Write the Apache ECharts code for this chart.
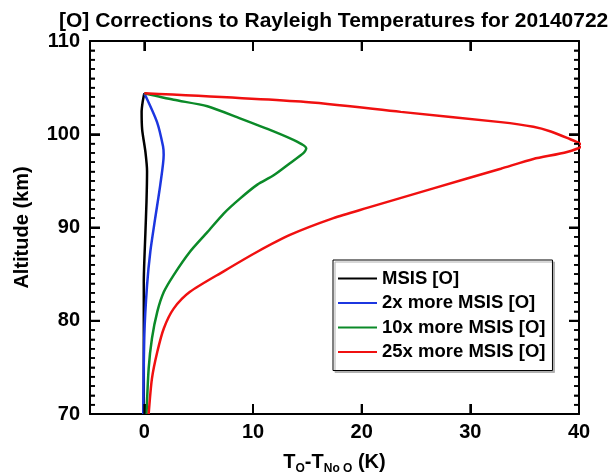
<!DOCTYPE html>
<html>
<head>
<meta charset="utf-8">
<script src="https://cdn.jsdelivr.net/npm/echarts@6/dist/echarts.min.js"></script>
<style>
  html, body { margin: 0; padding: 0; background: #fff; }
  #chart { width: 612px; height: 474px; }
</style>
</head>
<body>
<div id="chart"></div>
<script>
// Temperature corrections (K) versus altitude (km) for several [O] scalings
const seriesNames = ['MSIS [O]', '2x more MSIS [O]', '10x more MSIS [O]', '25x more MSIS [O]'];
const seriesColors = ['#000000', '#1c36e0', '#0b8a28', '#f01010'];

const altMsis = [104.4, 103.5, 102.4, 100.5, 98.1, 96.0, 92.8, 89.5, 84.1, 70.0];
const dtMsis  = [0.0, -0.15, -0.25, -0.2, 0.1, 0.25, 0.2, 0.1, -0.05, -0.05];

const alt2x = [104.4, 101.3, 98.7, 97.8, 94.6, 91.0, 87.4, 83.8, 78.5, 70.0];
const dt2x  = [0.0, 1.17, 1.72, 1.78, 1.47, 1.0, 0.55, 0.25, 0.0, -0.1];

const alt10x = [104.4, 103.7, 103.0, 101.7, 100.3, 99.2, 98.5, 98.0, 96.9, 95.6, 94.6, 93.1, 91.5, 89.5, 87.4, 84.9, 83.1, 81.0, 78.1, 74.9, 70.0];
const dt10x  = [0.0, 2.7, 5.8, 8.8, 11.9, 14.05, 14.9, 14.66, 13.4, 11.9, 10.4, 8.8, 7.3, 5.8, 4.2, 2.7, 1.8, 1.2, 0.7, 0.4, 0.2];

const alt25x = [104.4, 103.5, 102.4, 101.3, 100.8, 100.3, 99.6, 98.8, 98.1, 97.35, 96.3, 94.2, 92.1, 91.0, 89.2, 87.4, 85.3, 83.1, 81.3, 79.2, 76.7, 73.8, 70.0];
const dt25x  = [0.0, 14.4, 23.6, 32.8, 35.8, 37.4, 38.9, 40.3, 38.9, 35.8, 32.8, 26.6, 20.5, 17.4, 13.4, 10.4, 7.3, 4.2, 2.7, 1.8, 1.2, 0.7, 0.4];

// Axis ranges and tick positions
const xMin = -5, xMax = 40;
const yMin = 70, yMax = 110;
const xTicks = [0, 10, 20, 30, 40];
const yMajorTicks = [70, 80, 90, 100, 110];

const profiles = [[dtMsis, altMsis], [dt2x, alt2x], [dt10x, alt10x], [dt25x, alt25x]];

const FONT = 'Liberation Sans, Arial, Helvetica, sans-serif';

// 1 km minor ticks between the major ones
const yTickRows = [];
for (let a = yMin; a <= yMax; a++) {
  yTickRows.push([a, yMajorTicks.indexOf(a) >= 0 ? 10 : 5]);
}

const chart = echarts.init(document.getElementById('chart'), null, { renderer: 'canvas' });

function xAxisFor(position) {
  return {
    type: 'value', min: xMin, max: xMax,
    position: position,
    axisLine: { show: true, onZero: false, lineStyle: { color: '#000', width: 2 } },
    axisTick: { show: true, inside: true, length: 10, customValues: xTicks.slice(), lineStyle: { color: '#000', width: 2 } },
    splitLine: { show: false },
    axisLabel: { show: false }
  };
}
function yAxisFor(position) {
  return {
    type: 'value', min: yMin, max: yMax, interval: 10,
    position: position,
    axisLine: { show: true, onZero: false, lineStyle: { color: '#000', width: 2 } },
    axisTick: { show: true, inside: true, length: 10, lineStyle: { color: '#000', width: 2 } },
    minorTick: { show: true, splitNumber: 10, length: 5, lineStyle: { color: '#000', width: 1.5 } },
    splitLine: { show: false },
    minorSplitLine: { show: false },
    axisLabel: { show: false }
  };
}

const xBottom = xAxisFor('bottom');
xBottom.axisLabel = { show: true, customValues: xTicks.slice(), margin: 8, fontFamily: FONT, fontWeight: 'bold', fontSize: 20, color: '#000' };
xBottom.name = '{m|T}{s|O}{m|-T}{s|No O}{m| (K)}';
xBottom.nameLocation = 'middle';
xBottom.nameGap = 35;
xBottom.nameTextStyle = {
  rich: {
    m: { fontFamily: FONT, fontWeight: 'bold', fontSize: 20, color: '#000', lineHeight: 26, verticalAlign: 'middle' },
    s: { fontFamily: FONT, fontWeight: 'bold', fontSize: 12, color: '#000', lineHeight: 26, verticalAlign: 'bottom' }
  }
};
const xTop = xAxisFor('top');

const yLeft = yAxisFor('left');
yLeft.axisLabel = { show: true, margin: 10, fontFamily: FONT, fontWeight: 'bold', fontSize: 20, color: '#000' };
yLeft.name = 'Altitude (km)';
yLeft.nameLocation = 'middle';
yLeft.nameGap = 58;
yLeft.nameRotate = 90;
yLeft.nameTextStyle = { fontFamily: FONT, fontWeight: 'bold', fontSize: 20, color: '#000' };
const yRight = yAxisFor('right');

// Inward ticks on the top and bottom frame edges
const xTickSeries = {
  type: 'custom',
  coordinateSystem: 'cartesian2d',
  xAxisIndex: 0, yAxisIndex: 0,
  silent: true, clip: false, z: 10,
  data: xTicks.slice(0, 4).map(function (v) { return [v, yMin]; }),
  renderItem: function (params, api) {
    const v = api.value(0);
    const b = api.coord([v, yMin]);
    const t = api.coord([v, yMax]);
    return {
      type: 'group',
      children: [
        { type: 'line', shape: { x1: b[0], y1: b[1], x2: b[0], y2: b[1] - 10 }, style: { stroke: '#000', lineWidth: 2 } },
        { type: 'line', shape: { x1: t[0], y1: t[1], x2: t[0], y2: t[1] + 10 }, style: { stroke: '#000', lineWidth: 2 } }
      ]
    };
  }
};

// Inward major and minor ticks on the left and right frame edges
const yTickSeries = {
  type: 'custom',
  coordinateSystem: 'cartesian2d',
  xAxisIndex: 0, yAxisIndex: 0,
  silent: true, clip: false, z: 10,
  encode: { x: 2, y: 0 },
  data: yTickRows.map(function (r) { return [r[0], r[1], xMin]; }),
  renderItem: function (params, api) {
    const a = api.value(0);
    const len = api.value(1);
    const w = len > 5 ? 2 : 1.5;
    const l = api.coord([xMin, a]);
    const r = api.coord([xMax, a]);
    return {
      type: 'group',
      children: [
        { type: 'line', shape: { x1: l[0], y1: l[1], x2: l[0] + len, y2: l[1] }, style: { stroke: '#000', lineWidth: w } },
        { type: 'line', shape: { x1: r[0], y1: r[1], x2: r[0] - len, y2: r[1] }, style: { stroke: '#000', lineWidth: w } }
      ]
    };
  }
};

chart.setOption({
  animation: false,
  backgroundColor: '#fff',
  title: {
    text: '[O] Corrections to Rayleigh Temperatures for 20140722',
    left: 54, top: 6,
    textStyle: { fontFamily: FONT, fontWeight: 'bold', fontSize: 21, color: '#000' }
  },
  grid: { left: 90, right: 33, top: 41, bottom: 60, containLabel: false, outerBoundsMode: 'none' },
  legend: {
    orient: 'vertical',
    left: 333, top: 260,
    padding: [9, 7, 9, 5],
    itemGap: 5.5,
    itemWidth: 39, itemHeight: 2,
    icon: 'rect',
    backgroundColor: '#fff',
    borderColor: '#000', borderWidth: 1,
    shadowColor: '#b0b0b0', shadowOffsetX: 2, shadowOffsetY: 2, shadowBlur: 0,
    textStyle: { fontFamily: FONT, fontWeight: 'bold', fontSize: 18.5, color: '#000', lineHeight: 18.5 },
    data: seriesNames
  },
  xAxis: [xBottom, xTop],
  yAxis: [yLeft, yRight],
  series: profiles.map(function (p, i) {
    return {
      name: seriesNames[i],
      type: 'line',
      xAxisIndex: 0, yAxisIndex: 0,
      data: p[0].map(function (dt, k) { return [dt, p[1][k]]; }),
      showSymbol: false,
      smooth: 0.25,
      clip: true,
      color: seriesColors[i],
      lineStyle: { color: seriesColors[i], width: 2.5 },
      z: 2 + i
    };
  }).concat([xTickSeries, yTickSeries])
});
</script>
</body>
</html>
